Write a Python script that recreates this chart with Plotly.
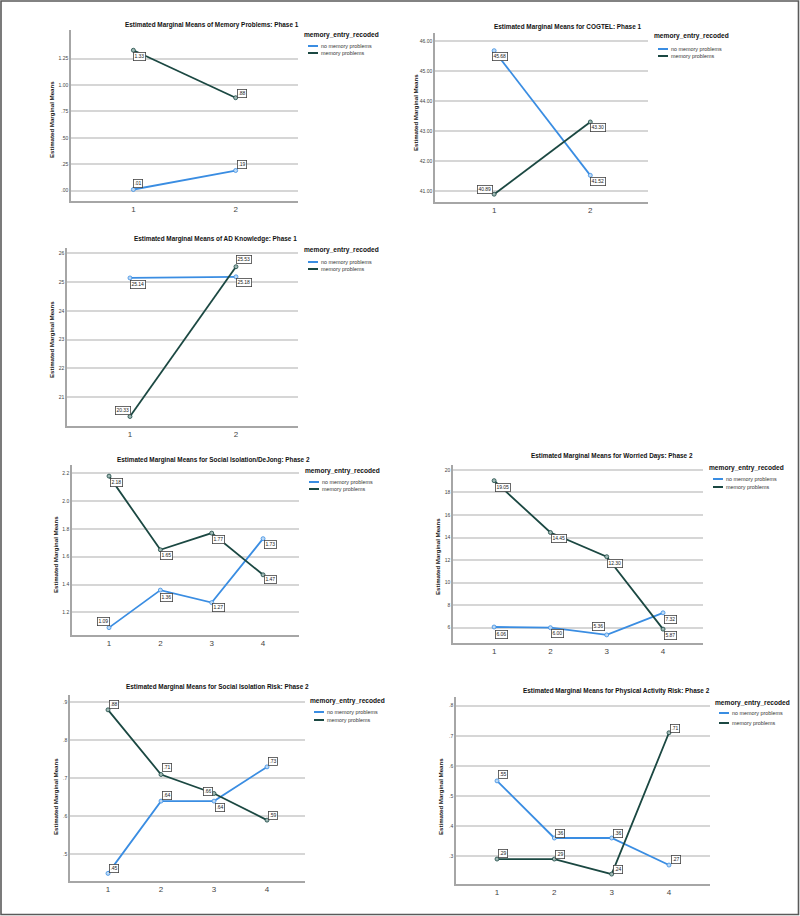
import plotly.graph_objects as go

# ---------------- data ----------------
CATS_2 = [1, 2]
CATS_4 = [1, 2, 3, 4]
GROUPS = ["no memory problems", "memory problems"]
LEGEND_TITLE = "memory_entry_recoded"

TITLES = [
    "Estimated Marginal Means of Memory Problems: Phase 1",
    "Estimated Marginal Means for COGTEL: Phase 1",
    "Estimated Marginal Means of AD Knowledge: Phase 1",
    "Estimated Marginal Means for Social Isolation/DeJong: Phase 2",
    "Estimated Marginal Means for Worried Days: Phase 2",
    "Estimated Marginal Means for Social Isolation Risk: Phase 2",
    "Estimated Marginal Means for Physical Activity Risk: Phase 2",
]

MEMPROB_NOMEM = [0.01, 0.19]
MEMPROB_MEM = [1.33, 0.88]
MEMPROB_TICKS = [0.0, 0.25, 0.50, 0.75, 1.00, 1.25]
MEMPROB_TICKTEXT = [".00", ".25", ".50", ".75", "1.00", "1.25"]

COGTEL_NOMEM = [45.68, 41.52]
COGTEL_MEM = [40.89, 43.30]
COGTEL_TICKS = [41, 42, 43, 44, 45, 46]
COGTEL_TICKTEXT = ["41.00", "42.00", "43.00", "44.00", "45.00", "46.00"]

ADK_NOMEM = [25.14, 25.18]
ADK_MEM = [20.33, 25.53]
ADK_TICKS = [21, 22, 23, 24, 25, 26]
ADK_TICKTEXT = ["21", "22", "23", "24", "25", "26"]

DEJONG_NOMEM = [1.09, 1.36, 1.27, 1.73]
DEJONG_MEM = [2.18, 1.65, 1.77, 1.47]
DEJONG_TICKS = [1.2, 1.4, 1.6, 1.8, 2.0, 2.2]
DEJONG_TICKTEXT = ["1.2", "1.4", "1.6", "1.8", "2.0", "2.2"]

WORRIED_NOMEM = [6.06, 6.00, 5.36, 7.32]
WORRIED_MEM = [19.05, 14.45, 12.30, 5.87]
WORRIED_TICKS = [6, 8, 10, 12, 14, 16, 18, 20]
WORRIED_TICKTEXT = ["6", "8", "10", "12", "14", "16", "18", "20"]

SIRISK_NOMEM = [0.45, 0.64, 0.64, 0.73]
SIRISK_MEM = [0.88, 0.71, 0.66, 0.59]
SIRISK_TICKS = [0.5, 0.6, 0.7, 0.8, 0.9]
SIRISK_TICKTEXT = [".5", ".6", ".7", ".8", ".9"]

PARISK_NOMEM = [0.55, 0.36, 0.36, 0.27]
PARISK_MEM = [0.29, 0.29, 0.24, 0.71]
PARISK_TICKS = [0.3, 0.4, 0.5, 0.6, 0.7, 0.8]
PARISK_TICKTEXT = [".3", ".4", ".5", ".6", ".7", ".8"]

# ---------------- layout / style ----------------
W, H = 800, 916
BLUE = "#3a8de2"
DARK = "#1b4842"
BLUE_FILL = "#bcd9f5"
DARK_FILL = "#9fb8b4"
GRID = "#d6d6d6"
AXIS = "#a6a6a6"
FONT = "Liberation Sans Narrow, Arial Narrow, Liberation Sans, Arial, sans-serif"


def px(x):
    return x / W


def py(y):
    return 1 - y / H


def spss(v, d):
    s = f"{v:.{d}f}"
    if s.startswith("0."):
        s = s[1:]
    return s


# per-panel placement (pixels of the 800x916 canvas)
PANELS = [
    dict(cats=CATS_2, nomem=MEMPROB_NOMEM, mem=MEMPROB_MEM, ticks=MEMPROB_TICKS, ticktext=MEMPROB_TICKTEXT, dec=2,
         xd=(71, 298), yd=(30, 201), xr=(0.39, 2.61), yr=(-0.099, 1.522),
         title=(212, 25), ytitle=(52, 120), leg=(302, 35, 46, 53),
         off_n=[(5, -6), (6, -6)], off_m=[(6, 6), (6, -4)]),
    dict(cats=CATS_2, nomem=COGTEL_NOMEM, mem=COGTEL_MEM, ticks=COGTEL_TICKS, ticktext=COGTEL_TICKTEXT, dec=2,
         xd=(435, 648), yd=(33, 202), xr=(0.385, 2.60), yr=(40.63, 46.27),
         title=(567, 27), ytitle=(415, 113), leg=(652, 36, 49, 56),
         off_n=[(6, 6), (8, 6)], off_m=[(-9, -5), (8, 6)]),
    dict(cats=CATS_2, nomem=ADK_NOMEM, mem=ADK_MEM, ticks=ADK_TICKS, ticktext=ADK_TICKTEXT, dec=2,
         xd=(67, 298), yd=(248, 426), xr=(0.406, 2.585), yr=(20.0, 26.18),
         title=(215, 239), ytitle=(51, 340), leg=(302, 250, 262, 269),
         off_n=[(8, 7), (8, 6)], off_m=[(-7, -6), (8, -7)]),
    dict(cats=CATS_4, nomem=DEJONG_NOMEM, mem=DEJONG_MEM, ticks=DEJONG_TICKS, ticktext=DEJONG_TICKTEXT, dec=2,
         xd=(72, 299), yd=(465, 635), xr=(0.279, 4.70), yr=(1.037, 2.26),
         title=(213, 460), ytitle=(55, 555), leg=(303, 471, 482, 489),
         off_n=[(-6, -6), (6, 7), (7, 5), (7, 6)], off_m=[(7, 6), (6, 6), (7, 6), (7, 5)]),
    dict(cats=CATS_4, nomem=WORRIED_NOMEM, mem=WORRIED_MEM, ticks=WORRIED_TICKS, ticktext=WORRIED_TICKTEXT, dec=2,
         xd=(453, 703), yd=(465, 643), xr=(0.27, 4.71), yr=(4.64, 20.44),
         title=(612, 456), ytitle=(437, 557), leg=(707, 468, 479, 487),
         off_n=[(7, 7), (7, 6), (-8, -8), (7, 7)], off_m=[(9, 7), (9, 6), (8, 7), (7, 6)]),
    dict(cats=CATS_4, nomem=SIRISK_NOMEM, mem=SIRISK_MEM, ticks=SIRISK_TICKS, ticktext=SIRISK_TICKTEXT, dec=2,
         xd=(70, 305), yd=(695, 881), xr=(0.283, 4.717), yr=(0.430, 0.919),
         title=(217, 687), ytitle=(55, 797), leg=(308, 701, 712, 720),
         off_n=[(6, -5), (6, -6), (6, 6), (6, -5)], off_m=[(6, -5), (6, -7), (-6, -2), (6, -5)]),
    dict(cats=CATS_4, nomem=PARISK_NOMEM, mem=PARISK_MEM, ticks=PARISK_TICKS, ticktext=PARISK_TICKTEXT, dec=2,
         xd=(456, 710), yd=(697, 884), xr=(0.284, 4.716), yr=(0.207, 0.829),
         title=(616, 691), ytitle=(440, 797), leg=(713, 703, 713, 723),
         off_n=[(6, -6), (6, -5), (6, -5), (7, -6)], off_m=[(6, -6), (6, -5), (6, -5), (6, -4)]),
]

fig = go.Figure()
annotations = []
shapes = []

for i, (p, title) in enumerate(zip(PANELS, TITLES)):
    n = i + 1
    xa = "x" if n == 1 else f"x{n}"
    ya = "y" if n == 1 else f"y{n}"
    xkey = "xaxis" if n == 1 else f"xaxis{n}"
    ykey = "yaxis" if n == 1 else f"yaxis{n}"

    for vals, color, fill, name, offs in [
        (p["nomem"], BLUE, BLUE_FILL, GROUPS[0], p["off_n"]),
        (p["mem"], DARK, DARK_FILL, GROUPS[1], p["off_m"]),
    ]:
        fig.add_trace(go.Scatter(
            x=p["cats"], y=vals, xaxis=xa, yaxis=ya, name=name, showlegend=False,
            mode="lines+markers",
            line=dict(color=color, width=1.8),
            marker=dict(symbol="circle", size=4, color=fill, line=dict(color=color, width=0.8)),
            hoverinfo="skip",
        ))
        for c, v, (dx, dy) in zip(p["cats"], vals, offs):
            annotations.append(dict(
                x=c, y=v, xref=xa, yref=ya, text=spss(v, p["dec"]), showarrow=False,
                xshift=dx, yshift=-dy, xanchor="center", yanchor="middle",
                font=dict(size=5, color="#222", family=FONT),
                bgcolor="white", bordercolor="#444", borderwidth=0.8, borderpad=0.6,
            ))

    fig.layout[xkey] = dict(
        domain=[px(p["xd"][0]), px(p["xd"][1])], range=list(p["xr"]), anchor=ya,
        tickmode="array", tickvals=p["cats"], ticktext=[str(c) for c in p["cats"]],
        showgrid=False, zeroline=False, showline=True, linecolor=AXIS, linewidth=1.5,
        ticks="", tickfont=dict(size=8, color="#444", family=FONT), fixedrange=True,
    )
    fig.layout[ykey] = dict(
        domain=[py(p["yd"][1]), py(p["yd"][0])], range=list(p["yr"]), anchor=xa,
        tickmode="array", tickvals=p["ticks"], ticktext=p["ticktext"],
        showgrid=True, gridcolor=GRID, gridwidth=1.5, zeroline=False,
        showline=True, linecolor=AXIS, linewidth=1.5,
        ticks="", tickfont=dict(size=5, color="#444", family=FONT), fixedrange=True,
    )

    # panel title
    annotations.append(dict(
        x=px(p["title"][0]), y=py(p["title"][1]), xref="paper", yref="paper",
        text=f"<b>{title}</b>", showarrow=False, xanchor="center", yanchor="middle",
        font=dict(size=6.4, color="#111", family=FONT),
    ))
    # y axis title
    annotations.append(dict(
        x=px(p["ytitle"][0]), y=py(p["ytitle"][1]), xref="paper", yref="paper",
        text="<b>Estimated Marginal Means</b>", showarrow=False, textangle=-90,
        xanchor="center", yanchor="middle",
        font=dict(size=6.1, color="#111", family=FONT),
    ))
    # legend
    lx, lty, l1, l2 = p["leg"]
    annotations.append(dict(
        x=px(lx), y=py(lty), xref="paper", yref="paper", text=f"<b>{LEGEND_TITLE}</b>",
        showarrow=False, xanchor="left", yanchor="middle",
        font=dict(size=6.6, color="#111", family=FONT),
    ))
    for yy, color, name in [(l1, BLUE, GROUPS[0]), (l2, DARK, GROUPS[1])]:
        shapes.append(dict(type="line", xref="paper", yref="paper",
                           x0=px(lx + 6), x1=px(lx + 16), y0=py(yy), y1=py(yy),
                           line=dict(color=color, width=2)))
        annotations.append(dict(
            x=px(lx + 17), y=py(yy), xref="paper", yref="paper", text=name,
            showarrow=False, xanchor="left", yanchor="middle",
            font=dict(size=5.4, color="#333", family=FONT),
        ))

# outer frame
shapes.append(dict(type="rect", xref="paper", yref="paper",
                   x0=px(1), x1=px(798.5), y0=py(914.5), y1=py(1),
                   line=dict(color="#5a5a5a", width=1.6), fillcolor="rgba(0,0,0,0)"))

fig.update_layout(
    width=W, height=H, margin=dict(l=0, r=0, t=0, b=0),
    paper_bgcolor="white", plot_bgcolor="white",
    annotations=annotations, shapes=shapes, showlegend=False,
    font=dict(family=FONT),
)

fig.write_html("out.html", post_script="document.body.style.margin='0px';",
               config={"displayModeBar": False})
